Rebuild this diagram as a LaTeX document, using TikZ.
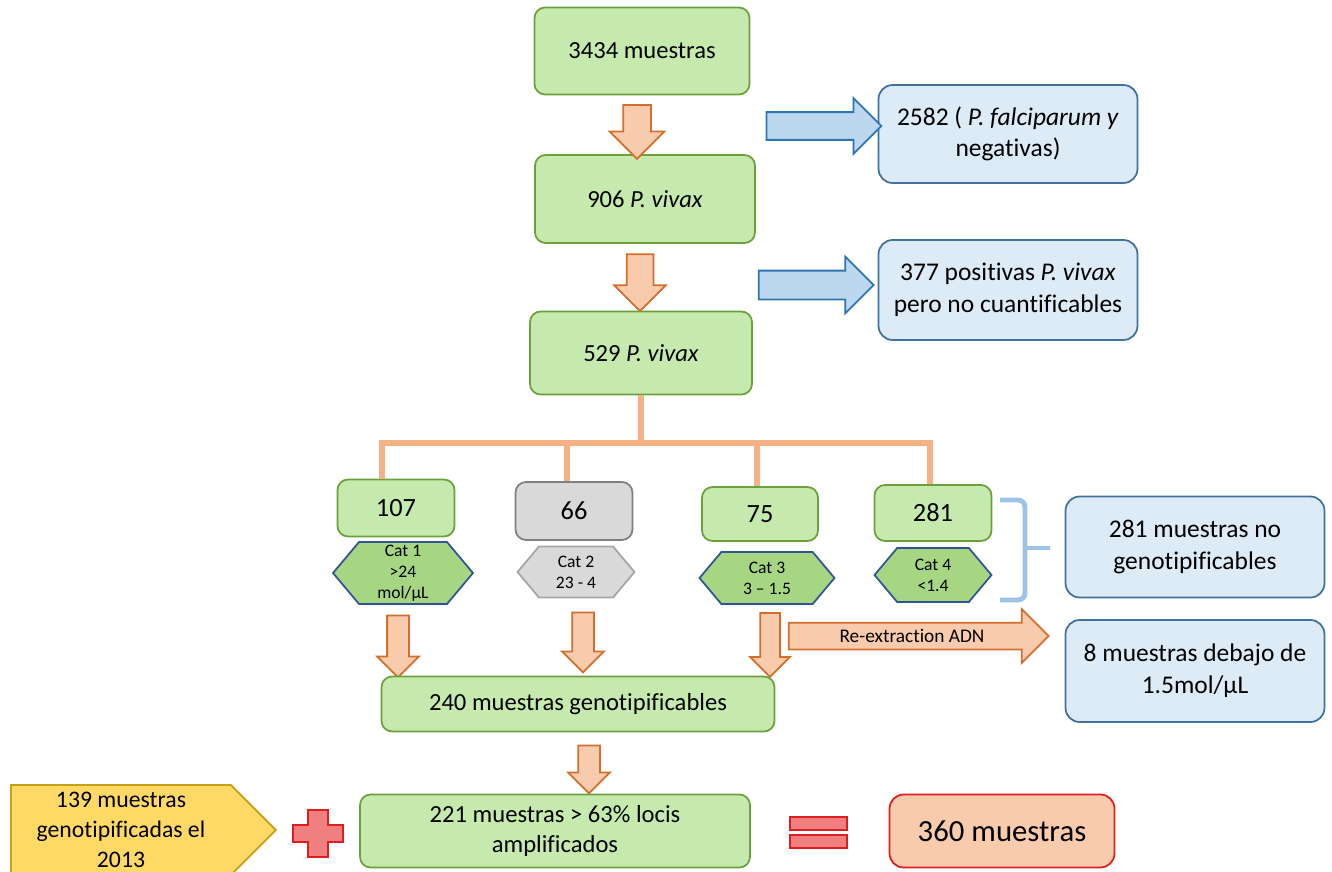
\documentclass[tikz,border=0pt]{standalone}
\usepackage{fontspec}
\setmainfont{Carlito}[Ligatures=NoCommon]
\usetikzlibrary{shapes.symbols,shapes.arrows}

\definecolor{gfill}{RGB}{198,234,173}
\definecolor{gline}{RGB}{108,160,60}
\definecolor{hexfill}{RGB}{166,214,130}
\definecolor{hexline}{RGB}{47,85,151}
\definecolor{bfill}{RGB}{221,235,247}
\definecolor{bline}{RGB}{65,113,156}
\definecolor{barrfill}{RGB}{189,215,238}
\definecolor{barrline}{RGB}{46,117,182}
\definecolor{ofill}{RGB}{248,203,173}
\definecolor{oline}{RGB}{212,110,45}
\definecolor{treecol}{RGB}{244,177,131}
\definecolor{bracecol}{RGB}{157,195,230}
\definecolor{yfill}{RGB}{255,217,102}
\definecolor{yline}{RGB}{200,160,20}
\definecolor{rfill}{RGB}{240,128,128}
\definecolor{rline}{RGB}{222,30,30}

\tikzset{
  gbox/.style={draw=gline,fill=gfill,line width=1pt,rounded corners=6pt,align=center,font=\fontsize{14}{17}\selectfont},
  catbox/.style={gbox,font=\fontsize{15}{18}\selectfont},
  greybox/.style={catbox,draw=black!50,fill=black!15},
  bbox/.style={draw=bline,fill=bfill,line width=1pt,rounded corners=8pt,align=center,font=\fontsize{14.5}{18}\selectfont,minimum width=5.18cm,minimum height=2.02cm},
  cathex/.style={signal,signal to=west and east,signal pointer angle=100,draw=hexline,fill=hexfill,line width=1pt,inner sep=0pt,align=center,font=\fontsize{10}{12}\selectfont},
  bigdown/.style={single arrow,rotate=-90,draw=oline,fill=ofill,line width=1pt,inner xsep=0pt,inner ysep=0.26cm,single arrow head extend=0.27cm,single arrow head indent=0pt},
  smalldown/.style={bigdown,inner ysep=0.2cm,single arrow head extend=0.2cm},
  bluearrow/.style={single arrow,draw=barrline,fill=barrfill,line width=1pt,inner xsep=0pt,inner ysep=0.26cm,single arrow head extend=0.28cm,single arrow head indent=0pt,minimum height=2.3cm},
  tree/.style={treecol,line width=3.4pt},
  sign/.style={draw=rline,fill=rfill,line width=1pt}
}

\begin{document}
\begin{tikzpicture}[x=0.02cm,y=-0.02cm]
    \useasboundingbox(0,0)rectangle(1332,872);

    \node[gbox,minimum width=4.3cm,minimum height=1.74cm](n3434)at(642,51){3434 muestras};
    \node[gbox,minimum width=4.4cm,minimum height=1.76cm](n906)at(645,199){906 \textit{P. vivax}};
    \node[gbox,minimum width=4.44cm,minimum height=1.66cm](n529)at(641,353){529 \textit{P. vivax}};

    \node[bbox,minimum height=1.96cm](nfalc)at(1008,134){2582 ( \textit{P. falciparum y}\\negativas)};
    \node[bbox,minimum height=2cm](nnocuant)at(1008,290){377 positivas \textit{P. vivax}\\pero no cuantificables};

    \node[bigdown,minimum height=1.08cm](a1)at(637,125){};
    \node[bigdown,minimum height=1.14cm,inner ysep=0.25cm,single arrow head extend=0.25cm](a2)at(640,276){};
    \node[bluearrow](b1)at(817,126){};
    \node[bluearrow,inner ysep=0.27cm](b2)at(809,285){};

    %% categorias
    \node[catbox,minimum width=2.34cm,minimum height=1.14cm](n107)at(396,508){107};
    \node[greybox,minimum width=2.34cm,minimum height=1.16cm](n66)at(574,511){66};
    \node[catbox,minimum width=2.32cm,minimum height=1.08cm](n75)at(760,514){75};
    \node[catbox,minimum width=2.34cm,minimum height=1.12cm](n281)at(933,513){281};

    \node[cathex,minimum width=2.8cm,minimum height=1.24cm](cat1)at(403,573){Cat 1\\>24\\mol/μL};
    \node[cathex,draw=black!35,fill=black!15,minimum width=2.34cm,minimum height=1.02cm](cat2)at(576,572){Cat 2\\23 - 4};
    \node[cathex,minimum width=2.7cm,minimum height=1.04cm](cat3)at(767,578){Cat 3\\3 – 1.5};
    \node[cathex,minimum width=2.34cm,minimum height=1.08cm](cat4)at(933,575){Cat 4\\<1.4};

    \coordinate(split)at(641,443);
    \coordinate(d1)at(382,443);
    \coordinate(d2)at(567,443);
    \coordinate(d3)at(757,443);
    \coordinate(d4)at(930,443);
    \draw[tree](n529.south)--(split);
    \draw[tree](d1|-n107.north)--(d1)--(d4)--(d4|-n281.north);
    \draw[tree](d2)--(d2|-n66.north);
    \draw[tree](d3)--(d3|-n75.north);

    \draw[bracecol,line width=2.8pt,rounded corners=4pt](1000,500)--(1025,500)--(1025,600)--(1000,600);
    \draw[bracecol,line width=2.8pt](1025,548)--(1050,548);

    \node[bbox](nnogen)at(1195,547){281 muestras no\\genotipificables};
    \node[bbox,minimum height=2.04cm](ndebajo)at(1195,671){8 muestras debajo de\\1.5mol/μL};

    \node[smalldown,minimum height=1.24cm](a3)at(398,641){};
    \node[smalldown,minimum height=1.2cm](a4)at(583,637){};
    \node[smalldown,minimum height=1.28cm,inner ysep=0.18cm,single arrow head extend=0.2cm](a5)at(770,640){};
    \node[single arrow,draw=oline,fill=ofill,line width=1pt,inner xsep=2pt,inner ysep=0pt,text height=0.37cm,text depth=0.13cm,
      single arrow head extend=0.27cm,single arrow head indent=0pt,minimum height=5.2cm,font=\fontsize{11}{12}\selectfont](reext)at(912,636){Re-extraction ADN};

    \node[gbox,minimum width=7.86cm,minimum height=1.1cm](n240)at(578,704){240 muestras genotipificables};
    \node[smalldown,minimum height=0.96cm](a6)at(589,764){};
    \node[gbox,minimum width=7.8cm,minimum height=1.46cm](n221)at(555,831){221 muestras > 63\% locis\\amplificados};

    \node[signal,signal to=east,signal pointer angle=90,draw=yline,fill=yfill,line width=1pt,minimum width=5.3cm,minimum height=1.8cm,
      align=center,font=\fontsize{13.5}{17}\selectfont](n139)at(121,830){139 muestras\\genotipificadas el\\2013};

    \draw[sign](308,810)--(328,810)--(328,825)--(343,825)--(343,842)--(328,842)--(328,857)--(308,857)--(308,842)--(293,842)--(293,825)--(308,825)--cycle;
    \draw[sign](790,817)rectangle(847,830);
    \draw[sign](790,835)rectangle(847,848);

    \node[draw=rline,fill=ofill,line width=1pt,rounded corners=8pt,minimum width=4.5cm,minimum height=1.46cm,font=\fontsize{17.5}{20}\selectfont](n360)at(1002,831){360 muestras};
\end{tikzpicture}
\end{document}
